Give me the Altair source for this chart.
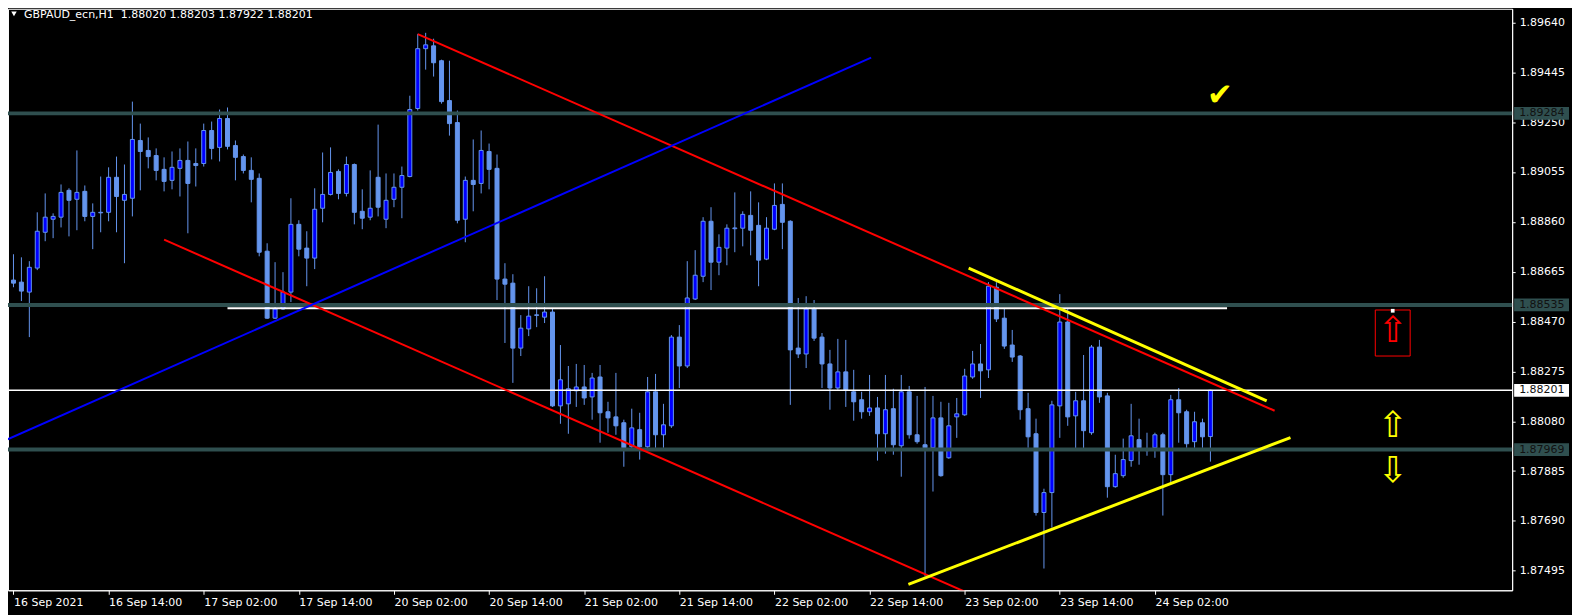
import altair as alt
import pandas as pd

# ---------------- data ----------------
opens = [1.88632,1.88624,1.88585,1.88679,1.88819,1.88870,1.88878,1.88983,1.88948,1.88979,
1.88881,1.88895,1.88897,1.89034,1.88944,1.88952,1.89178,1.89139,1.89119,1.89065,
1.89022,1.89069,1.89100,1.89088,1.89088,1.89217,1.89151,1.89264,1.89158,1.89115,
1.89061,1.89030,1.88745,1.88483,1.88519,1.88585,1.88850,1.88757,1.88718,1.88913,
1.88967,1.89057,1.88971,1.89084,1.88901,1.88878,1.89034,1.88870,1.88948,1.88995,
1.89037,1.89303,1.89537,1.89548,1.89490,1.89334,1.89248,1.88870,1.89022,1.89010,
1.89135,1.89069,1.88636,1.88620,1.88366,1.88441,1.88496,1.88487,1.88507,1.88140,
1.88148,1.88199,1.88214,1.88175,1.88253,1.88117,1.88097,1.88074,1.87980,1.88047,
1.87980,1.88195,1.88027,1.88062,1.88409,1.88296,1.88558,1.88647,1.88862,1.88702,
1.88757,1.88833,1.88835,1.88885,1.88846,1.88714,1.88831,1.88928,1.88862,1.88366,
1.88343,1.88519,1.88409,1.88304,1.88210,1.88273,1.88195,1.88164,1.88117,1.88132,
1.88031,1.88129,1.87984,1.88195,1.88027,1.87988,1.87976,1.88093,1.87937,1.88097,
1.88105,1.88253,1.88304,1.88281,1.88604,1.88483,1.88378,1.88335,1.88129,1.88031,
1.87723,1.87801,1.88140,1.88468,1.88101,1.88160,1.88035,1.88370,1.88179,1.87824,
1.87867,1.87926,1.88008,1.87965,1.87976,1.88027,1.87871,1.88164,1.88117,1.88000,
1.88074,1.88020]
highs = [1.88733,1.88721,1.88706,1.88897,1.88971,1.88893,1.89006,1.88991,1.89139,1.89002,
1.88932,1.89037,1.89073,1.89115,1.89084,1.89330,1.89244,1.89190,1.89147,1.89112,
1.89135,1.89147,1.89174,1.89147,1.89244,1.89252,1.89299,1.89307,1.89178,1.89123,
1.89112,1.89049,1.88776,1.88702,1.88663,1.88952,1.88866,1.88823,1.88991,1.89131,
1.89151,1.89065,1.89115,1.89088,1.88987,1.89061,1.89240,1.89049,1.89049,1.89076,
1.89353,1.89595,1.89599,1.89576,1.89494,1.89490,1.89295,1.89037,1.89182,1.89217,
1.89166,1.89123,1.88698,1.88655,1.88495,1.88608,1.88600,1.88647,1.88522,1.88378,
1.88296,1.88304,1.88300,1.88269,1.88300,1.88156,1.88269,1.88086,1.88129,1.88113,
1.88253,1.88265,1.88148,1.88417,1.88456,1.88706,1.88749,1.88878,1.88917,1.88811,
1.88850,1.88975,1.88901,1.88979,1.88936,1.88878,1.89010,1.89010,1.88866,1.88562,
1.88569,1.88554,1.88425,1.88359,1.88402,1.88398,1.88281,1.88195,1.88261,1.88175,
1.88261,1.88207,1.88261,1.88218,1.88179,1.88214,1.88179,1.88156,1.88152,1.88171,
1.88285,1.88355,1.88382,1.88624,1.88624,1.88519,1.88437,1.88339,1.88191,1.88090,
1.87816,1.88160,1.88577,1.88519,1.88195,1.88339,1.88378,1.88398,1.88191,1.87949,
1.88012,1.88148,1.88090,1.88035,1.88035,1.88035,1.88183,1.88210,1.88125,1.88117,
1.88090,1.88203]
lows = [1.88604,1.88550,1.88409,1.88671,1.88784,1.88796,1.88838,1.88803,1.88827,1.88862,
1.88753,1.88819,1.88862,1.88819,1.88698,1.88881,1.88983,1.89069,1.89022,1.88979,
1.88987,1.88959,1.88815,1.88998,1.89076,1.89104,1.89096,1.89143,1.89022,1.89049,
1.88936,1.88725,1.88480,1.88480,1.88515,1.88546,1.88725,1.88608,1.88675,1.88858,
1.88963,1.88948,1.88959,1.88850,1.88831,1.88866,1.88881,1.88835,1.88917,1.88874,
1.89034,1.89295,1.89455,1.89428,1.89322,1.89197,1.88854,1.88780,1.88901,1.88971,
1.88987,1.88554,1.88386,1.88230,1.88335,1.88413,1.88448,1.88464,1.88136,1.88070,
1.88031,1.88136,1.88144,1.88086,1.87996,1.88035,1.88027,1.87902,1.87976,1.87930,
1.87976,1.87976,1.87976,1.88054,1.88210,1.88288,1.88554,1.88624,1.88593,1.88651,
1.88690,1.88741,1.88764,1.88729,1.88608,1.88710,1.88827,1.88753,1.88144,1.88327,
1.88288,1.88394,1.88210,1.88125,1.88203,1.88136,1.88082,1.88090,1.88101,1.87926,
1.87953,1.87949,1.87863,1.88012,1.87992,1.87473,1.87805,1.87863,1.87933,1.88015,
1.88101,1.88246,1.88171,1.88249,1.88468,1.88363,1.88312,1.88086,1.87976,1.87711,
1.87504,1.87664,1.88015,1.88062,1.87969,1.87969,1.88027,1.88152,1.87781,1.87820,
1.87859,1.87902,1.87910,1.87945,1.87937,1.87711,1.87840,1.87996,1.87976,1.87976,
1.87976,1.87922]
closes = [1.88620,1.88589,1.88682,1.88823,1.88878,1.88881,1.88975,1.88944,1.88975,1.88881,
1.88897,1.88897,1.89034,1.88959,1.88967,1.89182,1.89135,1.89115,1.89061,1.89018,
1.89073,1.89100,1.89010,1.89080,1.89217,1.89147,1.89264,1.89155,1.89112,1.89061,
1.89026,1.88741,1.88483,1.88519,1.88585,1.88850,1.88753,1.88718,1.88909,1.88967,
1.89053,1.88971,1.89084,1.88897,1.88874,1.88913,1.88917,1.88944,1.88995,1.89041,
1.89299,1.89537,1.89552,1.89482,1.89330,1.89244,1.88866,1.89022,1.89006,1.89139,
1.89065,1.88636,1.88616,1.88366,1.88444,1.88491,1.88494,1.88507,1.88140,1.88242,
1.88207,1.88214,1.88171,1.88249,1.88113,1.88093,1.88062,1.87976,1.88054,1.87980,
1.88195,1.88027,1.88066,1.88409,1.88296,1.88562,1.88651,1.88862,1.88702,1.88760,
1.88835,1.88836,1.88889,1.88827,1.88710,1.88835,1.88924,1.88858,1.88359,1.88343,
1.88519,1.88405,1.88304,1.88210,1.88273,1.88203,1.88156,1.88117,1.88132,1.88031,
1.88125,1.87988,1.88195,1.88027,1.88000,1.87976,1.88093,1.87867,1.88062,1.88109,
1.88257,1.88304,1.88277,1.88608,1.88480,1.88374,1.88331,1.88125,1.88019,1.87723,
1.87801,1.88144,1.88468,1.88097,1.88160,1.88043,1.88370,1.88175,1.87824,1.87875,
1.87930,1.88023,1.87976,1.87972,1.88027,1.87871,1.88164,1.88113,1.87992,1.88078,
1.88019,1.88201]

tick_bars = [0, 12, 24, 36, 48, 60, 72, 84, 96, 108, 120, 132, 144]
tick_labels = ["16 Sep 2021", "16 Sep 14:00", "17 Sep 02:00", "17 Sep 14:00",
               "20 Sep 02:00", "20 Sep 14:00", "21 Sep 02:00", "21 Sep 14:00",
               "22 Sep 02:00", "22 Sep 14:00", "23 Sep 02:00", "23 Sep 14:00",
               "24 Sep 02:00"]
price_ticks = [1.87495, 1.87690, 1.87885, 1.88080, 1.88275, 1.88470,
               1.88665, 1.88860, 1.89055, 1.89250, 1.89445, 1.89640]

levels = [1.89284, 1.88535, 1.87969]
bid = 1.88201
header = "GBPAUD_ecn,H1\u00a0 1.88020 1.88203 1.87922 1.88201"

# trend lines: (bar, price) -> (bar, price)
red_lines = [(51, 1.89594, 159.1, 1.88121), (19, 1.88790, 121.0, 1.87400)]
blue_lines = [(-1, 1.88006, 108.2, 1.89502)]
yellow_lines = [(120.5, 1.88679, 158.1, 1.88160), (112.9, 1.87442, 161.1, 1.88016)]
white_segment = [(27, 1.88522, 153.1, 1.88522)]

# ---------------- layout ----------------
W, H = 1508, 583
XMIN = -0.0625
XMAX = XMIN + W / 8
YMIN, YMAX = 1.874188, 1.896931
FONT = "DejaVu Sans"

xs = alt.Scale(domain=[XMIN, XMAX], nice=False, zero=False)
ys = alt.Scale(domain=[YMIN, YMAX], nice=False, zero=False)
label_expr = "[" + ",".join("'%s'" % t for t in tick_labels) + "][round(datum.value / 12)]"
x_axis = alt.Axis(values=tick_bars, labelExpr=label_expr, title=None, grid=False,
                  labelAlign="left", labelFlush=False, labelOverlap=False,
                  tickSize=4, labelPadding=2, labelBaseline="top")
y_axis = alt.Axis(orient="right", values=price_ticks, format=".5f", title=None, grid=False,
                  tickSize=3, labelPadding=4, labelOverlap=False, labelFlush=False,
                  labelBaseline="middle")


def X(f):
    return alt.X(f, type="quantitative", scale=xs, axis=x_axis)


def Y(f):
    return alt.Y(f, type="quantitative", scale=ys, axis=y_axis)


candles = pd.DataFrame({"idx": list(range(len(opens))), "open": opens, "high": highs,
                        "low": lows, "close": closes})
candles["dir"] = ["up" if c >= o else "down" for o, c in zip(opens, closes)]

wicks = alt.Chart(candles).mark_rule(color="#6495ED", strokeWidth=1, clip=True).encode(
    x=X("idx"), y=Y("low"), y2="high")
bodies = alt.Chart(candles).mark_bar(width=4, stroke="#6495ED", strokeWidth=1, clip=True).encode(
    x=X("idx"), y=Y("open"), y2="close",
    fill=alt.Fill("dir:N", scale=alt.Scale(domain=["up", "down"], range=["#0000FF", "#6495ED"]),
                  legend=None))

lev_df = pd.DataFrame({"level": levels})
lev_rules = alt.Chart(lev_df).mark_rule(color="#2F4F4F", strokeWidth=4).encode(y=Y("level"))
bid_rule = alt.Chart(pd.DataFrame({"level": [bid]})).mark_rule(color="white", strokeWidth=1.5).encode(
    y=Y("level"))


def seg_df(lines):
    return pd.DataFrame(lines, columns=["x1", "y1", "x2", "y2"])


def seg_chart(lines, color, width):
    return alt.Chart(seg_df(lines)).mark_rule(color=color, strokeWidth=width, clip=True).encode(
        x=X("x1"), y=Y("y1"), x2="x2", y2="y2")


white_seg = seg_chart(white_segment, "white", 2)
red = seg_chart(red_lines, "#FF0000", 2)
blue = seg_chart(blue_lines, "#0000FF", 2)
yellow = seg_chart(yellow_lines, "#FFFF00", 3)

# annotations
box = pd.DataFrame({"x1": [171.8], "x2": [176.2], "y1": [1.88515], "y2": [1.88335]})
red_box = alt.Chart(box).mark_rect(stroke="#FF0000", strokeWidth=1, fillOpacity=0).encode(
    x=X("x1"), x2="x2", y=Y("y1"), y2="y2")
dot = alt.Chart(pd.DataFrame({"x": [174.0], "y": [1.88512]})).mark_square(
    size=14, color="white", opacity=1).encode(x=X("x"), y=Y("y"))
arrows = pd.DataFrame({"x": [174.0, 174.0, 174.0],
                       "y": [1.88433, 1.88060, 1.87887],
                       "g": ["\u21e7", "\u21e7", "\u21e9"],
                       "c": ["#FF0000", "#FFFF00", "#FFFF00"]})
arrow_marks = alt.Chart(arrows).mark_text(font=FONT, fontSize=36, baseline="middle", align="center").encode(
    x=X("x"), y=Y("y"), text="g:N", color=alt.Color("c:N", scale=None))
check = alt.Chart(pd.DataFrame({"x": [152.2], "y": [1.89352], "g": ["\u2714"]})).mark_text(
    font=FONT, fontSize=31, baseline="middle", align="center", color="#FFFF00").encode(
    x=X("x"), y=Y("y"), text="g:N")

# price-axis label boxes
box_df = pd.DataFrame({"level": levels + [bid],
                       "kind": ["lvl", "lvl", "lvl", "bid"]})
box_df["lo"] = box_df["level"] - 0.00025
box_df["hi"] = box_df["level"] + 0.00025
box_df["txt"] = ["%.5f" % v for v in box_df["level"]]
lab_boxes = alt.Chart(box_df).mark_rect().encode(
    x=alt.value(W + 2), x2=alt.value(W + 57), y=Y("lo"), y2="hi",
    color=alt.Color("kind:N", scale=alt.Scale(domain=["lvl", "bid"], range=["#2F4F4F", "#FFFFFF"]),
                    legend=None))
lab_text = alt.Chart(box_df).mark_text(font=FONT, fontSize=11, align="left", baseline="middle",
                                       color="#111111").encode(
    x=alt.value(W + 7), y=Y("level"), text="txt:N")

head_df = pd.DataFrame({"t": [header]})
head = alt.Chart(head_df).mark_text(font=FONT, fontSize=11, align="left", baseline="middle",
                                    color="white").encode(x=alt.value(16), y=alt.value(6), text="t:N")
tri = alt.Chart(head_df).mark_point(shape="triangle-down", filled=True, size=30, color="white",
                                    opacity=1).encode(x=alt.value(6), y=alt.value(5))

chart = alt.layer(
    wicks, bodies, lev_rules, white_seg, bid_rule, red, blue, yellow,
    red_box, dot, arrow_marks, check, lab_boxes, lab_text, head, tri
).properties(
    width=W, height=H,
    autosize=alt.AutoSizeParams(type="none"),
    padding={"left": 0, "top": 0, "right": 60, "bottom": 24},
).configure(
    background="black", font=FONT
).configure_axis(
    labelColor="white", tickColor="white", domainColor="white", labelFont=FONT,
    labelFontSize=11, domainWidth=1, tickWidth=1
).configure_view(stroke="white", strokeWidth=1)

chart.save("out.html", embed_options={"renderer": "svg", "actions": False})
